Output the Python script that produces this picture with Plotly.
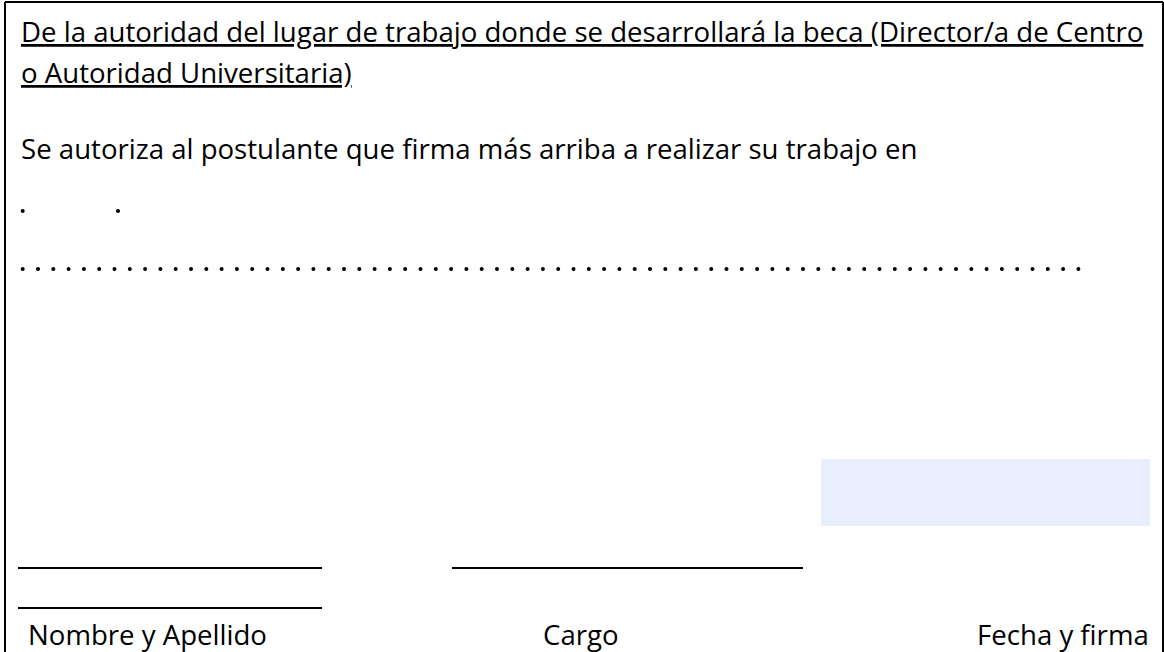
import plotly.graph_objects as go

W, H = 1164, 652
FONT = "Open Sans"
FS = 27.6

# text lines
heading_lines = [
    "De la autoridad del lugar de trabajo donde se desarrollará la beca (Director/a de Centro",
    "o Autoridad Universitaria)",
]
heading_y = [31, 72]
body_text = "Se autoriza al postulante que firma más arriba a realizar su trabajo en"
body_y = 148
labels = ["Nombre y Apellido", "Cargo", "Fecha y firma"]
label_x = [26, 581, 1151]
label_anchor = ["left", "center", "right"]
label_y = 634
text_x = 19

# dotted fill-in lines
short_dots_x = [22.7, 118]
short_dots_y = 211
long_dots_start, long_dots_step, long_dots_count = 22.7, 15.3, 70
long_dots_y = 269

# signature lines (x0, x1, y)
sig_lines = [(18, 322, 568), (452, 803, 568), (18, 322, 608)]

fig = go.Figure()

fig.add_trace(go.Scatter(
    x=short_dots_x, y=[short_dots_y] * len(short_dots_x), mode="markers",
    marker=dict(size=4, color="black"), hoverinfo="skip", showlegend=False))
long_x = [long_dots_start + i * long_dots_step for i in range(long_dots_count)]
fig.add_trace(go.Scatter(
    x=long_x, y=[long_dots_y] * len(long_x), mode="markers",
    marker=dict(size=4, color="black"), hoverinfo="skip", showlegend=False))

shapes = []
# border
shapes.append(dict(type="line", x0=5, x1=5, y0=2, y1=H, line=dict(color="black", width=2)))
shapes.append(dict(type="line", x0=5, x1=1163, y0=2, y1=2, line=dict(color="black", width=2)))
shapes.append(dict(type="line", x0=1163, x1=1163, y0=2, y1=H, line=dict(color="black", width=2)))
# blue box
shapes.append(dict(type="rect", x0=821, x1=1150, y0=459, y1=526,
                   fillcolor="#E8EEFB", line=dict(width=0), layer="below"))
for x0, x1, y in sig_lines:
    shapes.append(dict(type="line", x0=x0, x1=x1, y0=y, y1=y, line=dict(color="black", width=2)))

annotations = []
for t, y in zip(heading_lines, heading_y):
    annotations.append(dict(text="<u>" + t + "</u>", x=text_x, y=y, xanchor="left", yanchor="middle",
                            showarrow=False, font=dict(family=FONT, size=FS, color="black")))
annotations.append(dict(text=body_text, x=text_x, y=body_y, xanchor="left", yanchor="middle",
                        showarrow=False, font=dict(family=FONT, size=FS, color="black")))
for t, x, a in zip(labels, label_x, label_anchor):
    annotations.append(dict(text=t, x=x, y=label_y, xanchor=a, yanchor="middle",
                            showarrow=False, font=dict(family=FONT, size=FS, color="black")))

fig.update_layout(
    width=W, height=H, margin=dict(l=0, r=0, t=0, b=0),
    paper_bgcolor="white", plot_bgcolor="white",
    xaxis=dict(range=[0, W], visible=False, fixedrange=True),
    yaxis=dict(range=[H, 0], visible=False, fixedrange=True),
    shapes=shapes, annotations=annotations, showlegend=False,
)
fig.write_html("out.html", config={"displayModeBar": False},
               post_script="document.body.style.margin='0';document.body.style.overflow='hidden';")
